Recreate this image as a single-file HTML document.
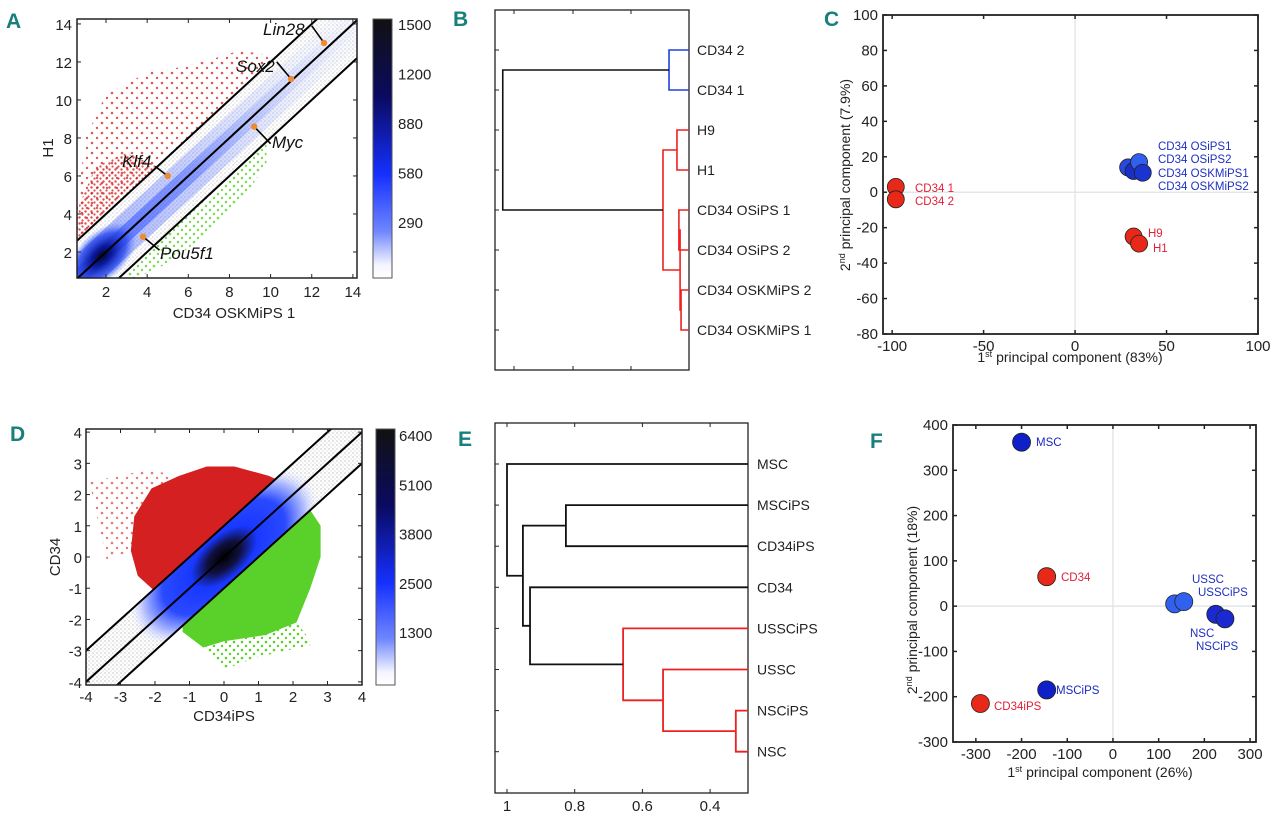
<!DOCTYPE html>
<html><head><meta charset="utf-8"><style>
html,body{margin:0;padding:0;background:#fff;}
svg{display:block;font-family:"Liberation Sans Narrow","Liberation Sans",sans-serif;}
.lt{font-weight:bold;fill:#18807c;font-size:21px;font-family:"Liberation Sans Narrow","Liberation Sans",sans-serif;}
.tk{font-size:15px;fill:#222;}
.ax{font-size:15px;fill:#222;}
</style></head><body>
<svg id="fig" width="1280" height="822" viewBox="0 0 1280 822" xmlns="http://www.w3.org/2000/svg">
<defs>
<linearGradient id="cbar" x1="0" y1="0" x2="0" y2="1">
<stop offset="0" stop-color="#111"/><stop offset="0.3" stop-color="#0a0a60"/><stop offset="0.6" stop-color="#1530ff"/><stop offset="0.82" stop-color="#6f86ff"/><stop offset="0.95" stop-color="#f4f5ff"/><stop offset="1" stop-color="#fff"/>
</linearGradient>
<pattern id="redDots" width="10" height="10" patternUnits="userSpaceOnUse"><circle cx="2" cy="3" r="1.3" fill="#d42020"/><circle cx="7" cy="8" r="1.2" fill="#d42020"/></pattern>
<pattern id="redDots2" width="6" height="6" patternUnits="userSpaceOnUse"><circle cx="1.5" cy="1.5" r="1.2" fill="#d42020"/><circle cx="4.5" cy="4.5" r="1.1" fill="#d42020"/></pattern>
<pattern id="greenDots" width="8" height="8" patternUnits="userSpaceOnUse"><circle cx="2" cy="2" r="1.3" fill="#5ad02a"/><circle cx="6" cy="6" r="1.2" fill="#5ad02a"/></pattern>
<pattern id="grayDots" width="4" height="4" patternUnits="userSpaceOnUse"><circle cx="1" cy="1" r="0.9" fill="#c8c8c8"/><circle cx="3" cy="3" r="0.8" fill="#d6d6d6"/></pattern>
<radialGradient id="blobA"><stop offset="0" stop-color="#050520"/><stop offset="0.3" stop-color="#0a1aa0"/><stop offset="0.7" stop-color="#2a4af0" stop-opacity="0.8"/><stop offset="1" stop-color="#6080ff" stop-opacity="0"/></radialGradient>
<radialGradient id="blobD"><stop offset="0" stop-color="#000"/><stop offset="0.18" stop-color="#101040"/><stop offset="0.35" stop-color="#1838ff"/><stop offset="0.65" stop-color="#2a4aff"/><stop offset="0.85" stop-color="#b0bcff"/><stop offset="1" stop-color="#e8ecff" stop-opacity="0"/></radialGradient>
<clipPath id="clipA"><rect x="77" y="19" width="280" height="259"/></clipPath>
<clipPath id="clipD"><rect x="86" y="429" width="276" height="256"/></clipPath>
</defs>
<g id="root"></g>
</svg>
<script>
// ---------- data ----------
// Panel A
const aXTicks = [2,4,6,8,10,12,14];
const aYTicks = [2,4,6,8,10,12,14];
const aGenes = ["Lin28","Sox2","Myc","Klf4","Pou5f1"];
const aGeneX = [12.6,11.0,9.2,5.0,3.8];
const aGeneY = [13.0,11.1,8.6,6.0,2.8];
const aCbarLabels = ["1500","1200","880","580","290"];
const aOffsets = [2,0,-2];
// Panel B
const bLeaves = ["CD34 2","CD34 1","H9","H1","CD34 OSiPS 1","CD34 OSiPS 2","CD34 OSKMiPS 2","CD34 OSKMiPS 1"];
const bMergeA = [0,2,4,6,10,9,8];
const bMergeB = [1,3,5,7,11,12,13];
const bMergeH = [0.103,0.062,0.052,0.041,0.046,0.134,0.96];
const bMergeColor = ["#2040e0","#ee2020","#ee2020","#ee2020","#ee2020","#ee2020","#111"];
// Panel C
const cNames = ["CD34 1","CD34 2","H9","H1","OSiPS1","OSKMiPS2","OSiPS2","OSKMiPS1"];
const cPC1 = [-98,-98,32,35,29,32,35,37];
const cPC2 = [3,-4,-25,-29,14,12,17,11];
const cColor = ["#e82818","#e82818","#e82818","#e82818","#2a48e0","#1830c8","#3060ee","#1a34d0"];
const cXTicks = [-100,-50,0,50,100];
const cYTicks = [100,80,60,40,20,0,-20,-40,-60,-80];
// Panel D
const dTicks = [-4,-3,-2,-1,0,1,2,3,4];
const dCbarLabels = ["6400","5100","3800","2500","1300"];
const dOffsets = [1,0,-1];
// Panel E
const eLeaves = ["MSC","MSCiPS","CD34iPS","CD34","USSCiPS","USSC","NSCiPS","NSC"];
const eMergeA = [6,5,4,1,3,11,0];
const eMergeB = [7,8,9,2,10,12,13];
const eMergeH = [0.324,0.539,0.657,0.826,0.932,0.953,1.0];
const eMergeColor = ["#ee2020","#ee2020","#ee2020","#111","#111","#111","#111"];
const eXTicks = [1,0.8,0.6,0.4];
// Panel F
const fNames = ["MSC","CD34","MSCiPS","CD34iPS","USSC","USSCiPS","NSC","NSCiPS"];
const fPC1 = [-200,-145,-145,-290,135,155,225,245];
const fPC2 = [362,65,-185,-215,5,10,-18,-28];
const fColor = ["#1020c8","#e82818","#1020c8","#e82818","#3060ee","#3060ee","#1a2ad0","#1a2ad0"];
const fXTicks = [-300,-200,-100,0,100,200,300];
const fYTicks = [400,300,200,100,0,-100,-200,-300];

// ---------- helpers ----------
const NS="http://www.w3.org/2000/svg";
const root=document.getElementById('root');
function mk(tag,attrs,parent){const e=document.createElementNS(NS,tag);for(const k in attrs)e.setAttribute(k,attrs[k]);(parent||root).appendChild(e);return e;}
function txt(x,y,s,cls,anchor,parent,extra){const t=mk('text',Object.assign({x:x,y:y,'text-anchor':anchor||'start'},extra||{}),parent);if(cls)t.setAttribute('class',cls);t.textContent=s;return t;}
function grp(name){const g=mk('g',{});return g;}

[["A",6,28],["B",453,26],["C",824,26],["D",10,441],["E",458,446],["F",870,448]].forEach(l=>{
  const t=txt(l[1],l[2],l[0],'lt');
  
  
});

// ---------- Panel A ----------
(function(){
  const g=grp('panel-a-scatter');
  const X0=77,X1=357,Y0=19,Y1=278,xmin=0.59,xmax=14.2,ymin=0.63,ymax=14.26;
  const sx=v=>X0+(v-xmin)/(xmax-xmin)*(X1-X0);
  const sy=v=>Y1-(v-ymin)/(ymax-ymin)*(Y1-Y0);
  const c=mk('g',{'clip-path':'url(#clipA)'},g);
  const red=[[0.6,2.7],[0.6,4.5],[1,8],[2,10.3],[3,10.8],[4,11.5],[5.5,11.7],[7,12.1],[8.5,12.6],[10.3,12.3]];
  const r1=mk('polygon',{points:red.map(p=>sx(p[0])+','+sy(p[1])).join(' '),fill:'url(#redDots)',opacity:0.75},c);
  
  
  const red2=[[0.6,2.7],[0.7,4.5],[1.5,6.5],[3,7.2],[4.5,6.5]];
  mk('polygon',{points:red2.map(p=>sx(p[0])+','+sy(p[1])).join(' '),fill:'url(#redDots2)',opacity:0.8},c);
  const grn=[[2.9,0.9],[3.4,0.6],[5,1.4],[7,3],[8.5,4.6],[9.8,6.6],[9.8,7.8]];
  const g1=mk('polygon',{points:grn.map(p=>sx(p[0])+','+sy(p[1])).join(' '),fill:'url(#greenDots)',opacity:0.8},c);
  
  
  const gb=[[0.6,2.6],[14.3,16.3],[14.3,12.3],[2.6,0.6]];
  mk('polygon',{points:gb.map(p=>sx(p[0])+','+sy(p[1])).join(' '),fill:'url(#grayDots)',opacity:0.7},c);
  const lg=mk('linearGradient',{id:'bandA',gradientUnits:'userSpaceOnUse',x1:sx(1),y1:sy(1),x2:sx(14),y2:sy(14)},g);
  [['0','#2040ff',0.95],['0.4','#3a5aff',0.7],['0.75','#a0b0ff',0.45],['1','#e0e4ff',0.3]].forEach(s=>mk('stop',{offset:s[0],'stop-color':s[1],'stop-opacity':s[2]},lg));
  mk('line',{x1:sx(0),y1:sy(0),x2:sx(15),y2:sy(15),stroke:'url(#bandA)','stroke-width':36,opacity:0.4},c);
  mk('line',{x1:sx(0),y1:sy(0),x2:sx(15),y2:sy(15),stroke:'url(#bandA)','stroke-width':16,opacity:0.65},c);
  mk('ellipse',{cx:sx(1.8),cy:sy(1.8),rx:42,ry:24,fill:'url(#blobA)',transform:`rotate(-43 ${sx(1.8)} ${sy(1.8)})`},c);
  aOffsets.forEach(o=>{
    const l=mk('line',{x1:sx(0),y1:sy(0+o),x2:sx(16),y2:sy(16+o),stroke:'#000','stroke-width':2},c);
    
    
  });
  const lab=[[263,35,'start',[12,13.9]],[236,72,'start',[10.3,12]],[272,148,'start',[10,7.7]],[122,167,'start',[4.4,6.5]],[160,259,'start',[4.6,2.1]]];
  aGenes.forEach((n,i)=>{
    const px=sx(aGeneX[i]),py=sy(aGeneY[i]);
    const L=lab[i];
    mk('line',{x1:px,y1:py,x2:sx(L[3][0]),y2:sy(L[3][1]),stroke:'#000','stroke-width':1.6},g);
    const pt=mk('circle',{cx:px,cy:py,r:3.2,fill:'#f08a30'},g);
    
    
    const t=txt(L[0],L[1],n,null,L[2],g,{'font-size':17,'font-style':'italic',fill:'#111'});
    
    
  });
  mk('rect',{x:X0,y:Y0,width:X1-X0,height:Y1-Y0,fill:'none',stroke:'#222','stroke-width':1.5},g);
  aXTicks.forEach(v=>{const x=sx(v);mk('line',{x1:x,y1:Y1,x2:x,y2:Y1-4,stroke:'#222'},g);mk('line',{x1:x,y1:Y0,x2:x,y2:Y0+4,stroke:'#222'},g);
    const t=txt(x,Y1+19,String(v),'tk','middle',g);});
  aYTicks.forEach(v=>{const y=sy(v);mk('line',{x1:X0,y1:y,x2:X0+4,y2:y,stroke:'#222'},g);mk('line',{x1:X1,y1:y,x2:X1-4,y2:y,stroke:'#222'},g);
    const t=txt(X0-5,y+6,String(v),'tk','end',g);});
  const xl=txt(234,318,'CD34 OSKMiPS 1','ax','middle',g);
  const yl=txt(0,0,'H1','ax','middle',g,{transform:'translate(53,148) rotate(-90)','font-size':17});
  const cb=mk('rect',{x:373,y:19,width:19,height:259,fill:'url(#cbar)',stroke:'#555'},g);
  
  aCbarLabels.forEach((s,i)=>{const t=txt(398,30+i*49.5,s,'tk','start',g,{'font-size':16});});
})();

// ---------- dendrogram helper ----------
function dendro(g,leaves,A,B,H,C,sx,leafY,lw,leafD){
  const nx=[],ny=[];
  leaves.forEach((n,i)=>{nx.push(sx(leafD));ny.push(leafY(i));});
  A.forEach((a,k)=>{
    const b=B[k],x=sx(H[k]),col=C[k];
    const p=mk('path',{d:`M${nx[a]},${ny[a]}H${x}V${ny[b]}H${nx[b]}`,fill:'none',stroke:col,'stroke-width':lw},g);
    
    
    nx.push(x);ny.push((ny[a]+ny[b])/2);
  });
}

// ---------- Panel B ----------
(function(){
  const g=grp('panel-b-dendrogram');
  const X0=495,X1=689,Y0=10,Y1=370;
  const sx=d=>X1-d*(X1-X0);
  const ly=i=>50+i*40;
  mk('rect',{x:X0,y:Y0,width:X1-X0,height:Y1-Y0,fill:'none',stroke:'#222','stroke-width':1.3},g);
  [514,573,631].forEach(x=>{mk('line',{x1:x,y1:Y0,x2:x,y2:Y0+4,stroke:'#222'},g);mk('line',{x1:x,y1:Y1,x2:x,y2:Y1-4,stroke:'#222'},g);});
  bLeaves.forEach((n,i)=>{mk('line',{x1:X0,y1:ly(i),x2:X0+4,y2:ly(i),stroke:'#222'},g);
    const t=txt(697,ly(i)+5,n,null,'start',g,{'font-size':14,fill:'#222'});});
  dendro(g,bLeaves,bMergeA,bMergeB,bMergeH,bMergeColor,sx,ly,1.6,0);
})();

// ---------- PCA helper ----------
function pca(g,X0,X1,Y0,Y1,xmin,xmax,ymin,ymax,xt,yt,names,px,py,cols,r){
  const sx=v=>X0+(v-xmin)/(xmax-xmin)*(X1-X0);
  const sy=v=>Y1-(v-ymin)/(ymax-ymin)*(Y1-Y0);
  mk('line',{x1:sx(0),y1:Y0,x2:sx(0),y2:Y1,stroke:'#dde2e2','stroke-width':1.2},g);
  mk('line',{x1:X0,y1:sy(0),x2:X1,y2:sy(0),stroke:'#dde2e2','stroke-width':1.2},g);
  names.forEach((n,i)=>{
    const c=mk('circle',{cx:sx(px[i]),cy:sy(py[i]),r:r,fill:cols[i],stroke:'#222','stroke-width':0.8},g);
    
    
  });
  mk('rect',{x:X0,y:Y0,width:X1-X0,height:Y1-Y0,fill:'none',stroke:'#222','stroke-width':1.8},g);
  xt.forEach(v=>{const x=sx(v);mk('line',{x1:x,y1:Y1,x2:x,y2:Y1-4,stroke:'#222','stroke-width':1.5},g);mk('line',{x1:x,y1:Y0,x2:x,y2:Y0+4,stroke:'#222','stroke-width':1.5},g);
    const t=txt(x,Y1+17,String(v),'tk','middle',g,{'font-size':14});});
  yt.forEach(v=>{const y=sy(v);mk('line',{x1:X0,y1:y,x2:X0+4,y2:y,stroke:'#222','stroke-width':1.5},g);mk('line',{x1:X1,y1:y,x2:X1-4,y2:y,stroke:'#222','stroke-width':1.5},g);
    const t=txt(X0-5,y+5,String(v),'tk','end',g,{'font-size':14});});
  return {sx,sy};
}

// ---------- Panel C ----------
(function(){
  const g=grp('panel-c-pca');
  pca(g,883,1258,15,334,-105,100,-80,100,cXTicks,cYTicks,cNames,cPC1,cPC2,cColor,8.5);
  const L=[["CD34 1",915,192,'#e0203a'],["CD34 2",915,205,'#e0203a'],["H9",1148,237,'#e0203a'],["H1",1153,252,'#e0203a'],
    ["CD34 OSiPS1",1158,150,'#2030c0'],["CD34 OSiPS2",1158,163,'#2030c0'],["CD34 OSKMiPS1",1158,177,'#2030c0'],["CD34 OSKMiPS2",1158,190,'#2030c0']];
  L.forEach(l=>{const t=txt(l[1],l[2],l[0],null,'start',g,{'font-size':11.5,fill:l[3],'font-family':'"Liberation Sans",sans-serif'});});
  const xl=mk('text',{x:1070,y:362,'text-anchor':'middle','font-size':14,fill:'#222'},g);
  xl.innerHTML='1<tspan font-size="9" dy="-5">st</tspan><tspan dy="5"> principal component (83%)</tspan>';
  
  const yl=mk('text',{'text-anchor':'middle','font-size':14,fill:'#222',transform:'translate(850,175) rotate(-90)'},g);
  yl.innerHTML='2<tspan font-size="9" dy="-5">nd</tspan><tspan dy="5"> principal component (7.9%)</tspan>';
  
})();

// ---------- Panel D ----------
(function(){
  const g=grp('panel-d-scatter');
  const X0=86,X1=362,Y0=429,Y1=685;
  const sx=v=>X0+(v+4)/8*(X1-X0);
  const sy=v=>Y1-(v+4.1)/8.2*(Y1-Y0);
  const c=mk('g',{'clip-path':'url(#clipD)'},g);
  const gb=[[-4,-3],[4,5],[4,3],[-4,-5]];
  mk('polygon',{points:gb.map(p=>sx(p[0])+','+sy(p[1])).join(' '),fill:'url(#grayDots)',opacity:0.8},c);
  const red=[[-1.7,-0.7],[-2.0,-1.1],[-2.5,-0.6],[-2.7,0.2],[-2.6,1.3],[-2.1,2.2],[-1.3,2.6],[-0.5,2.9],[0.3,2.9],[1.3,2.6],[1.5,2.5]];
  const r=mk('polygon',{points:red.map(p=>sx(p[0])+','+sy(p[1])).join(' '),fill:'#d42020'},c);
  
  const red2=[[-2.7,0.2],[-3.4,-0.1],[-3.9,2.4],[-2.2,2.8],[-1.3,2.6]];
  mk('polygon',{points:red2.map(p=>sx(p[0])+','+sy(p[1])).join(' '),fill:'url(#redDots)',opacity:0.6},c);
  const grn=[[-1.2,-2.2],[2.5,1.5],[2.8,1.0],[2.8,0],[2.5,-1.0],[2.1,-2.1],[1.2,-2.5],[0,-2.7],[-0.6,-2.9],[-1.2,-2.4]];
  const gr=mk('polygon',{points:grn.map(p=>sx(p[0])+','+sy(p[1])).join(' '),fill:'#5ad02a'},c);
  
  mk('polygon',{points:[[-0.6,-2.9],[0,-3.6],[1,-3.2],[2.6,-2.8],[2.1,-2.1],[0,-2.7]].map(p=>sx(p[0])+','+sy(p[1])).join(' '),fill:'url(#greenDots)'},c);
  const band=mk('clipPath',{id:'bandD'},g);
  mk('polygon',{points:[[-4,-3],[4,5],[4,3],[-4,-5]].map(p=>sx(p[0])+','+sy(p[1])).join(' ')},band);
  const dg=mk('g',{'clip-path':'url(#bandD)'},c);
  mk('ellipse',{cx:sx(0),cy:sy(0),rx:115,ry:60,fill:'url(#blobD)',transform:`rotate(-42 ${sx(0)} ${sy(0)})`},dg);
  dOffsets.forEach(o=>{
    const l=mk('line',{x1:sx(-5),y1:sy(-5+o),x2:sx(5),y2:sy(5+o),stroke:'#000','stroke-width':2},c);
    
  });
  mk('rect',{x:X0,y:Y0,width:X1-X0,height:Y1-Y0,fill:'none',stroke:'#222','stroke-width':1.5},g);
  dTicks.forEach(v=>{const x=sx(v);mk('line',{x1:x,y1:Y1,x2:x,y2:Y1-4,stroke:'#222'},g);mk('line',{x1:x,y1:Y0,x2:x,y2:Y0+4,stroke:'#222'},g);
    const t=txt(x,Y1+17,String(v),'tk','middle',g,{'font-size':16});
    const y=sy(v);mk('line',{x1:X0,y1:y,x2:X0+4,y2:y,stroke:'#222'},g);mk('line',{x1:X1,y1:y,x2:X1-4,y2:y,stroke:'#222'},g);
    const t2=txt(X0-4,y+6,String(v),'tk','end',g,{'font-size':16});});
  const xl=txt(224,721,'CD34iPS','ax','middle',g);
  const yl=txt(0,0,'CD34','ax','middle',g,{transform:'translate(60,557) rotate(-90)','font-size':16});
  const cb=mk('rect',{x:376,y:429,width:19,height:256,fill:'url(#cbar)',stroke:'#555'},g);
  
  dCbarLabels.forEach((s,i)=>{const t=txt(399,441+i*49.3,s,'tk','start',g,{'font-size':16});});
})();

// ---------- Panel E ----------
(function(){
  const g=grp('panel-e-dendrogram');
  const X0=495,X1=748,Y0=423,Y1=793;
  const sx=d=>507+(1-d)*338.5;
  const ly=i=>464+i*41.1;
  mk('rect',{x:X0,y:Y0,width:X1-X0,height:Y1-Y0,fill:'none',stroke:'#222','stroke-width':1.3},g);
  eXTicks.forEach(v=>{const x=sx(v);mk('line',{x1:x,y1:Y0,x2:x,y2:Y0+4,stroke:'#222'},g);mk('line',{x1:x,y1:Y1,x2:x,y2:Y1-4,stroke:'#222'},g);
    const t=txt(x,Y1+18,String(v),'tk','middle',g,{'font-size':14});});
  eLeaves.forEach((n,i)=>{mk('line',{x1:X0,y1:ly(i),x2:X0+4,y2:ly(i),stroke:'#222'},g);
    const t=txt(757,ly(i)+5,n,null,'start',g,{'font-size':14,fill:'#222'});});
  dendro(g,eLeaves,eMergeA,eMergeB,eMergeH,eMergeColor,sx,ly,1.8,0.288);
})();

// ---------- Panel F ----------
(function(){
  const g=grp('panel-f-pca');
  pca(g,953,1256,425,742,-350,313,-300,400,fXTicks,fYTicks,fNames,fPC1,fPC2,fColor,9);
  const L=[["MSC",1036,446,'#1828c0'],["CD34",1061,581,'#e0203a'],["MSCiPS",1056,694,'#1828c0'],["CD34iPS",994,710,'#e0203a'],
    ["USSC",1192,583,'#2030c0'],["USSCiPS",1198,596,'#2030c0'],["NSC",1190,637,'#2030c0'],["NSCiPS",1196,650,'#2030c0']];
  L.forEach(l=>{const t=txt(l[1],l[2],l[0],null,'start',g,{'font-size':11.5,fill:l[3],'font-family':'"Liberation Sans",sans-serif'});});
  const xl=mk('text',{x:1100,y:777,'text-anchor':'middle','font-size':14,fill:'#222'},g);
  xl.innerHTML='1<tspan font-size="9" dy="-5">st</tspan><tspan dy="5"> principal component (26%)</tspan>';
  
  const yl=mk('text',{'text-anchor':'middle','font-size':14,fill:'#222',transform:'translate(917,600) rotate(-90)'},g);
  yl.innerHTML='2<tspan font-size="9" dy="-5">nd</tspan><tspan dy="5"> principal component (18%)</tspan>';
  
})();
</script>
</body></html>
